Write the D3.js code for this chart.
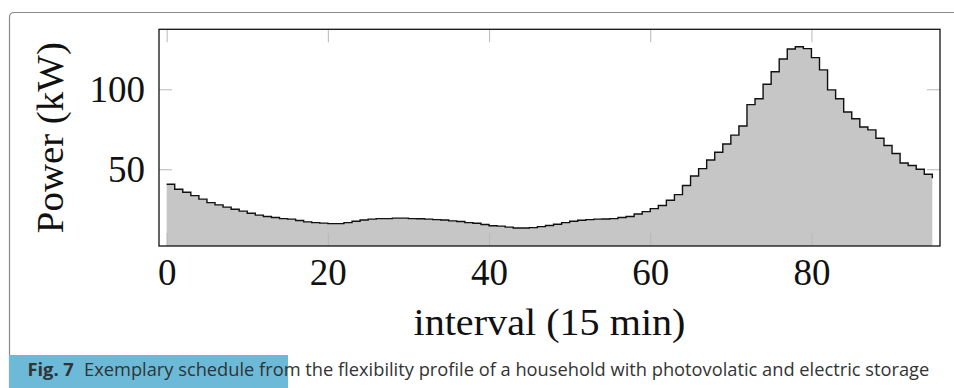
<!DOCTYPE html>
<html>
<head>
<meta charset="utf-8">
<script src="https://cdn.jsdelivr.net/npm/d3@7"></script>
<style>
  body { margin: 0; background: #fff; }
  svg { display: block; }
  .tick line { stroke: #b8b8b8; stroke-width: 1; }
  .tick text { font-family: "Liberation Serif", serif; font-size: 37px; fill: #111; }
  .label { font-family: "Liberation Serif", serif; font-size: 37px; fill: #111; }
  .caption { font-family: "Open Sans", "Noto Sans", sans-serif; fill: #333; }
</style>
</head>
<body>
<div id="chart"></div>
<script>
// power per 15-minute interval (kW)
var intervals = d3.range(0, 96);
var power = [
  40.6, 37.5, 35.6, 33.5, 31.3, 29.1, 27.7, 26.3, 25.0, 23.8,
  22.5, 21.3, 20.4, 19.8, 19.1, 18.8, 17.9, 17.1, 16.6, 16.3,
  16.0, 16.0, 16.6, 17.5, 18.3, 18.8, 19.1, 19.1, 19.4, 19.4,
  19.1, 19.0, 18.8, 18.5, 18.3, 17.7, 17.3, 16.6, 16.2, 15.4,
  14.7, 14.4, 13.8, 13.3, 13.3, 13.5, 14.1, 14.8, 15.6, 16.6,
  17.5, 18.1, 18.5, 18.8, 18.9, 19.1, 19.8, 20.4, 22.0, 23.5,
  25.4, 27.3, 30.6, 34.1, 39.8, 45.8, 50.4, 55.8, 60.6, 65.8,
  71.3, 77.0, 90.4, 94.1, 103.1, 111.0, 118.9, 125.2, 126.6, 125.4,
  119.8, 112.1, 99.6, 94.1, 85.8, 81.6, 76.4, 74.6, 69.4, 64.8,
  59.8, 53.9, 52.3, 50.0, 46.9, 44.4
];
var xTicks = [0, 20, 40, 60, 80];
var yTicks = [50, 100];
var xLabel = "interval (15 min)";
var yLabel = "Power (kW)";
var figNo = "Fig. 7";
var captionText = "Exemplary schedule from the flexibility profile of a household with photovolatic and electric storage";

var W = 954, H = 388;
var pLeft = 159, pRight = 940, pTop = 29.3, pBottom = 246;

var svg = d3.select("#chart").append("svg").attr("width", W).attr("height", H);

// outer article frame
svg.append("path")
    .attr("d", "M9.5," + (W + 20) + " V17.5 Q9.5,12.5 14.5,12.5 H" + (W + 20))
    .attr("fill", "none")
    .attr("stroke", "#8a8a8a")
    .attr("stroke-width", 1.2);

var x = d3.scaleLinear().domain([-0.95, 95.95]).range([pLeft, pRight]);
var y = d3.scaleLinear().domain([2, 137.5]).range([pBottom, pTop]);

var data = intervals.map((d, i) => ({ i: d, p: power[i] }));

var area = d3.area()
    .curve(d3.curveStepAfter)
    .x(d => x(d.i))
    .y0(y(y.domain()[0]))
    .y1(d => y(d.p));

var line = d3.line()
    .curve(d3.curveStepAfter)
    .x(d => x(d.i))
    .y(d => y(d.p));

svg.append("path").datum(data)
    .attr("d", area)
    .attr("fill", "#c6c6c6");

// tick marks inside the frame on all four sides
var tl = 13;
svg.append("g").attr("transform", `translate(0,${pBottom})`)
    .call(d3.axisBottom(x).tickValues(xTicks).tickSize(-tl).tickFormat(d3.format("d")))
    .call(g => g.select(".domain").remove())
    .call(g => g.selectAll("text").attr("y", 39).attr("dy", 0));

svg.append("g").attr("transform", `translate(0,${pTop})`)
    .call(d3.axisTop(x).tickValues(xTicks).tickSize(-tl).tickFormat(""))
    .call(g => g.select(".domain").remove());

svg.append("g").attr("transform", `translate(${pLeft},0)`)
    .call(d3.axisLeft(y).tickValues(yTicks).tickSize(-tl).tickFormat(d3.format("d")))
    .call(g => g.select(".domain").remove())
    .call(g => g.selectAll("text").attr("x", -14).attr("dy", "0.33em"));

svg.append("g").attr("transform", `translate(${pRight},0)`)
    .call(d3.axisRight(y).tickValues(yTicks).tickSize(-tl).tickFormat(""))
    .call(g => g.select(".domain").remove());

svg.append("path").datum(data)
    .attr("d", line)
    .attr("fill", "none")
    .attr("stroke", "#111")
    .attr("stroke-width", 1.4);

svg.append("rect")
    .attr("x", pLeft).attr("y", pTop)
    .attr("width", pRight - pLeft).attr("height", pBottom - pTop)
    .attr("fill", "none")
    .attr("stroke", "#111")
    .attr("stroke-width", 1.3);

// axis labels
svg.append("text")
    .attr("class", "label")
    .attr("x", (pLeft + pRight) / 2)
    .attr("y", 335)
    .attr("text-anchor", "middle")
    .attr("textLength", 272)
    .attr("lengthAdjust", "spacingAndGlyphs")
    .text(xLabel);

svg.append("text")
    .attr("class", "label")
    .attr("transform", `translate(63,${(pTop + pBottom) / 2}) rotate(-90)`)
    .attr("text-anchor", "middle")
    .attr("textLength", 191)
    .attr("lengthAdjust", "spacingAndGlyphs")
    .text(yLabel);

// caption
svg.append("rect")
    .attr("x", 9).attr("y", 355)
    .attr("width", 279).attr("height", 40)
    .attr("fill", "#6cb9d8");

var cap = svg.append("text")
    .attr("class", "caption")
    .attr("y", 376)
    .style("font-size", "18px");
cap.append("tspan").attr("x", 27.5).style("font-weight", "bold").text(figNo);
var rest = cap.append("tspan").attr("x", 84).text(captionText);
var w = rest.node().getComputedTextLength();
cap.style("font-size", (18 * 846 / w).toFixed(2) + "px");
</script>
</body>
</html>
